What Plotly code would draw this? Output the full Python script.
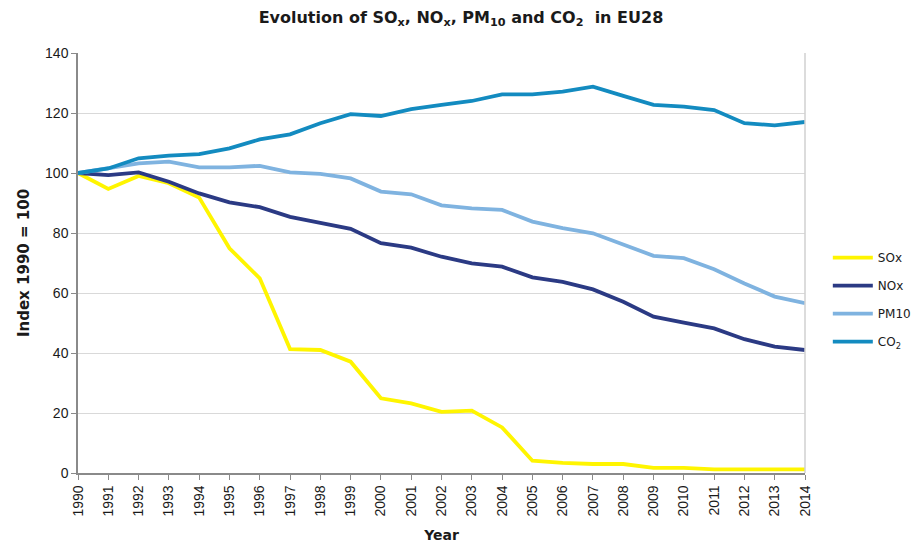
import plotly.graph_objs as go

years = list(range(1990, 2015))

sox = [100, 94.7, 99, 96.6, 91.8, 74.9, 64.9, 41.3, 41, 37.1, 24.9, 23.2, 20.4,
       20.8, 15.2, 4.1, 3.4, 3.0, 3.0, 1.7, 1.7, 1.2, 1.2, 1.2, 1.2]
nox = [100, 99.3, 100.2, 97.1, 93.2, 90.2, 88.6, 85.4, 83.4, 81.4, 76.6, 75.1, 72.1,
       69.9, 68.8, 65.2, 63.7, 61.2, 57.1, 52.1, 50.1, 48.2, 44.6, 42.1, 41.0]
pm10 = [100, 101.6, 103.2, 103.8, 101.9, 101.9, 102.4, 100.2, 99.7, 98.2, 93.8, 92.9, 89.2,
        88.2, 87.7, 83.8, 81.6, 79.9, 76.3, 72.4, 71.6, 67.9, 63.2, 58.8, 56.6]
co2 = [100, 101.5, 104.9, 105.8, 106.3, 108.2, 111.2, 112.9, 116.6, 119.6, 119.0, 121.3, 122.7,
       124.0, 126.2, 126.2, 127.1, 128.8, 125.7, 122.7, 122.1, 121.0, 116.6, 115.9, 117.0]

series = [("SOx", sox, "#FFF500"),
          ("NOx", nox, "#2B3A84"),
          ("PM10", pm10, "#7FB3E0"),
          ("CO<sub>2</sub>", co2, "#138BC0")]

traces = []
for i, (name, vals, color) in enumerate(series):
    traces.append(go.Scatter(x=years, y=vals, mode="lines", name=name,
                             legendgroup=str(i),
                             line={"color": color, "width": 3.8}))

fig = go.Figure(traces)

# page body has an 8px margin, so the figure is a bit smaller than the window
fig.update_layout(
    width=916, height=546,
    margin={"l": 70, "r": 119, "t": 45, "b": 81},
    paper_bgcolor="white", plot_bgcolor="white",
    font={"family": "Liberation Sans, Arial, sans-serif", "size": 14, "color": "#1a1a1a"},
    title={"text": "<b>Evolution of SO<sub>x</sub>, NO<sub>x</sub>, PM<sub>10</sub> and CO<sub>2</sub>  in EU28</b>",
           "x": 0.4945, "xanchor": "center", "y": 0.983, "yanchor": "middle",
           "font": {"family": "DejaVu Sans, sans-serif", "size": 16, "color": "#1a1a1a"}},
    legend={"xref": "container", "yref": "container",
            "x": 0.895, "xanchor": "left", "y": 0.466, "yanchor": "middle",
            "tracegroupgap": 9, "itemwidth": 40,
            "font": {"family": "DejaVu Sans, sans-serif", "size": 12, "color": "#1a1a1a"}},
    showlegend=True,
)

fig.update_xaxes(range=[1990, 2014], tickvals=years, ticktext=[str(y) for y in years],
                 tickangle=-90, ticks="outside", ticklen=5, tickcolor="#8a8a8a",
                 showline=True, linecolor="#8a8a8a", linewidth=1.5,
                 showgrid=False, zeroline=False, automargin=False,
                 title={"text": "<b>Year</b>", "standoff": 15,
                        "font": {"family": "DejaVu Sans, sans-serif", "size": 14}})
fig.update_yaxes(range=[0, 140], dtick=20, ticks="outside", ticklen=5, tickcolor="#8a8a8a",
                 showline=True, linecolor="#8a8a8a", linewidth=1.5,
                 gridcolor="#d9d9d9", gridwidth=1, zeroline=False, automargin=False,
                 title={"text": "<b>Index 1990 = 100</b>", "standoff": 12,
                        "font": {"family": "DejaVu Sans, sans-serif", "size": 15}})

# light border on the right of the plot area
fig.add_shape(type="line", xref="paper", yref="paper", x0=1, x1=1, y0=0, y1=1,
              line={"color": "#d0d0d0", "width": 1.5})

fig.write_html("out.html")
